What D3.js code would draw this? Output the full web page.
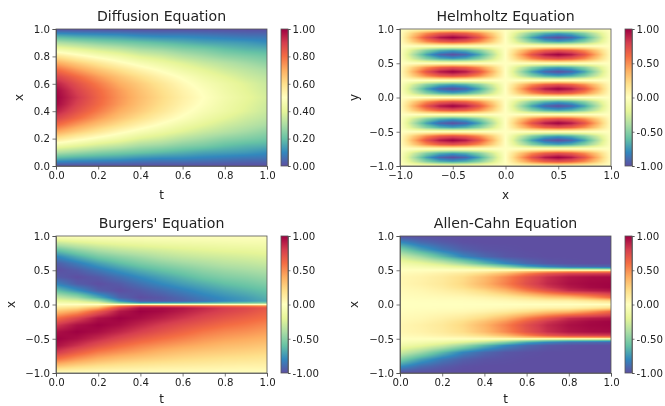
<!DOCTYPE html>
<html>
<head>
<meta charset="utf-8">
<script src="https://d3js.org/d3.v7.min.js"></script>
<style>
    html, body { margin: 0; padding: 0; background: #fff; }
    svg { display: block; font-family: "DejaVu Sans", sans-serif; fill: #222; filter: blur(0.3px); }
    .title { font-size: 14.1px; text-anchor: middle; }
    .label { font-size: 12px; text-anchor: middle; }
    .tick text { font-size: 10.2px; fill: #222; font-family: "DejaVu Sans", sans-serif; }
    .tick line, .domain { stroke: #444; stroke-width: 0.7px; }
    .frame { fill: none; stroke: #555; stroke-width: 0.8px; }
</style>
</head>
<body>
<svg id="chart" width="665" height="406"></svg>
<script>
// matplotlib Spectral_r anchors
var spectral = ["#5e4fa2", "#3288bd", "#66c2a5", "#abdda4", "#e6f598", "#ffffbf", "#fee08b", "#fdae61", "#f46d43", "#d53e4f", "#9e0142"];

var titles = ["Diffusion Equation", "Helmholtz Equation", "Burgers' Equation", "Allen-Cahn Equation"];
var xLabels = ["t", "x", "t", "t"];
var yLabels = ["x", "y", "x", "x"];
var unitTicks = [0, 0.2, 0.4, 0.6, 0.8, 1];
var halfTicks = [-1, -0.5, 0, 0.5, 1];
var cbarTicksUnit = ["0.00", "0.20", "0.40", "0.60", "0.80", "1.00"];
var cbarTicksSigned = ["-1.00", "-0.50", "0.00", "0.50", "1.00"];

// time columns shared by the three t-x panels
var tCols = [0, 0.1, 0.2, 0.3, 0.4, 0.5, 0.6, 0.7, 0.8, 0.9, 1];

// ---- Diffusion: rows run from x=1 down to x=0
var diffRows = [1, 0.95, 0.9, 0.85, 0.8, 0.75, 0.7, 0.65, 0.6, 0.55, 0.5, 0.45, 0.4, 0.35, 0.3, 0.25, 0.2, 0.15, 0.1, 0.05, 0];
var diffValues = [
    [0,0,0,0,0,0,0,0,0,0,0],
    [.16,.14,.13,.12,.10,.09,.09,.08,.07,.06,.06],
    [.31,.28,.25,.23,.21,.19,.17,.15,.14,.13,.11],
    [.45,.41,.37,.34,.30,.28,.25,.23,.20,.18,.17],
    [.59,.53,.48,.44,.39,.36,.32,.29,.26,.24,.22],
    [.71,.64,.58,.52,.47,.43,.39,.35,.32,.29,.26],
    [.81,.73,.66,.60,.54,.49,.44,.40,.36,.33,.30],
    [.89,.81,.73,.66,.60,.54,.49,.44,.40,.36,.33],
    [.95,.86,.78,.70,.64,.58,.52,.47,.43,.39,.35],
    [.99,.89,.81,.73,.66,.60,.54,.49,.44,.40,.36],
    [1,.91,.82,.74,.67,.61,.55,.50,.45,.41,.37],
    [.99,.89,.81,.73,.66,.60,.54,.49,.44,.40,.36],
    [.95,.86,.78,.70,.64,.58,.52,.47,.43,.39,.35],
    [.89,.81,.73,.66,.60,.54,.49,.44,.40,.36,.33],
    [.81,.73,.66,.60,.54,.49,.44,.40,.36,.33,.30],
    [.71,.64,.58,.52,.47,.43,.39,.35,.32,.29,.26],
    [.59,.53,.48,.44,.39,.36,.32,.29,.26,.24,.22],
    [.45,.41,.37,.34,.30,.28,.25,.23,.20,.18,.17],
    [.31,.28,.25,.23,.21,.19,.17,.15,.14,.13,.11],
    [.16,.14,.13,.12,.10,.09,.09,.08,.07,.06,.06],
    [0,0,0,0,0,0,0,0,0,0,0]
];

// ---- Helmholtz: columns are x, rows run from y=1 down to y=-1
var helmCols = [-1, -0.875, -0.75, -0.625, -0.5, -0.375, -0.25, -0.125, 0, 0.125, 0.25, 0.375, 0.5, 0.625, 0.75, 0.875, 1];
var helmRows = [1, .9375, .875, .8125, .75, .6875, .625, .5625, .5, .4375, .375, .3125, .25, .1875, .125, .0625, 0, -.0625, -.125, -.1875, -.25, -.3125, -.375, -.4375, -.5, -.5625, -.625, -.6875, -.75, -.8125, -.875, -.9375, -1];
var helmValues = [
    [0,0,0,0,0,0,0,0,0,0,0,0,0,0,0,0,0],
    [0,.27,.5,.65,.71,.65,.5,.27,0,-.27,-.5,-.65,-.71,-.65,-.5,-.27,0],
    [0,.38,.71,.92,1,.92,.71,.38,0,-.38,-.71,-.92,-1,-.92,-.71,-.38,0],
    [0,.27,.5,.65,.71,.65,.5,.27,0,-.27,-.5,-.65,-.71,-.65,-.5,-.27,0],
    [0,0,0,0,0,0,0,0,0,0,0,0,0,0,0,0,0],
    [0,-.27,-.5,-.65,-.71,-.65,-.5,-.27,0,.27,.5,.65,.71,.65,.5,.27,0],
    [0,-.38,-.71,-.92,-1,-.92,-.71,-.38,0,.38,.71,.92,1,.92,.71,.38,0],
    [0,-.27,-.5,-.65,-.71,-.65,-.5,-.27,0,.27,.5,.65,.71,.65,.5,.27,0],
    [0,0,0,0,0,0,0,0,0,0,0,0,0,0,0,0,0],
    [0,.27,.5,.65,.71,.65,.5,.27,0,-.27,-.5,-.65,-.71,-.65,-.5,-.27,0],
    [0,.38,.71,.92,1,.92,.71,.38,0,-.38,-.71,-.92,-1,-.92,-.71,-.38,0],
    [0,.27,.5,.65,.71,.65,.5,.27,0,-.27,-.5,-.65,-.71,-.65,-.5,-.27,0],
    [0,0,0,0,0,0,0,0,0,0,0,0,0,0,0,0,0],
    [0,-.27,-.5,-.65,-.71,-.65,-.5,-.27,0,.27,.5,.65,.71,.65,.5,.27,0],
    [0,-.38,-.71,-.92,-1,-.92,-.71,-.38,0,.38,.71,.92,1,.92,.71,.38,0],
    [0,-.27,-.5,-.65,-.71,-.65,-.5,-.27,0,.27,.5,.65,.71,.65,.5,.27,0],
    [0,0,0,0,0,0,0,0,0,0,0,0,0,0,0,0,0],
    [0,.27,.5,.65,.71,.65,.5,.27,0,-.27,-.5,-.65,-.71,-.65,-.5,-.27,0],
    [0,.38,.71,.92,1,.92,.71,.38,0,-.38,-.71,-.92,-1,-.92,-.71,-.38,0],
    [0,.27,.5,.65,.71,.65,.5,.27,0,-.27,-.5,-.65,-.71,-.65,-.5,-.27,0],
    [0,0,0,0,0,0,0,0,0,0,0,0,0,0,0,0,0],
    [0,-.27,-.5,-.65,-.71,-.65,-.5,-.27,0,.27,.5,.65,.71,.65,.5,.27,0],
    [0,-.38,-.71,-.92,-1,-.92,-.71,-.38,0,.38,.71,.92,1,.92,.71,.38,0],
    [0,-.27,-.5,-.65,-.71,-.65,-.5,-.27,0,.27,.5,.65,.71,.65,.5,.27,0],
    [0,0,0,0,0,0,0,0,0,0,0,0,0,0,0,0,0],
    [0,.27,.5,.65,.71,.65,.5,.27,0,-.27,-.5,-.65,-.71,-.65,-.5,-.27,0],
    [0,.38,.71,.92,1,.92,.71,.38,0,-.38,-.71,-.92,-1,-.92,-.71,-.38,0],
    [0,.27,.5,.65,.71,.65,.5,.27,0,-.27,-.5,-.65,-.71,-.65,-.5,-.27,0],
    [0,0,0,0,0,0,0,0,0,0,0,0,0,0,0,0,0],
    [0,-.27,-.5,-.65,-.71,-.65,-.5,-.27,0,.27,.5,.65,.71,.65,.5,.27,0],
    [0,-.38,-.71,-.92,-1,-.92,-.71,-.38,0,.38,.71,.92,1,.92,.71,.38,0],
    [0,-.27,-.5,-.65,-.71,-.65,-.5,-.27,0,.27,.5,.65,.71,.65,.5,.27,0],
    [0,0,0,0,0,0,0,0,0,0,0,0,0,0,0,0,0]
];

// ---- Burgers: rows packed around the shock at x=0
var burgRows = [1, .9, .8, .7, .6, .5, .4, .3, .2, .1, .05, .02, .005, 0, -.005, -.02, -.05, -.1, -.2, -.3, -.4, -.5, -.6, -.7, -.8, -.9, -1];
var burgValues = [
    [0,0,0,0,0,0,0,0,0,0,0],
    [-.31,-.24,-.19,-.16,-.14,-.12,-.11,-.10,-.09,-.08,-.08],
    [-.59,-.47,-.38,-.32,-.28,-.25,-.22,-.20,-.18,-.17,-.15],
    [-.81,-.67,-.55,-.48,-.42,-.36,-.32,-.29,-.27,-.25,-.23],
    [-.95,-.84,-.72,-.62,-.54,-.48,-.43,-.39,-.35,-.33,-.30],
    [-1,-.95,-.86,-.76,-.67,-.60,-.54,-.48,-.44,-.41,-.38],
    [-.95,-1,-.96,-.88,-.79,-.71,-.64,-.57,-.52,-.49,-.45],
    [-.81,-.95,-1,-.96,-.88,-.80,-.73,-.67,-.61,-.57,-.52],
    [-.59,-.76,-.94,-1,-.96,-.90,-.83,-.76,-.70,-.65,-.60],
    [-.31,-.43,-.67,-.92,-1,-.97,-.91,-.84,-.78,-.73,-.66],
    [-.16,-.22,-.39,-.77,-.95,-.96,-.93,-.87,-.80,-.75,-.69],
    [-.06,-.09,-.17,-.50,-.70,-.68,-.66,-.62,-.58,-.55,-.50],
    [-.02,-.02,-.04,-.18,-.25,-.20,-.20,-.20,-.18,-.18,-.16],
    [0,0,0,0,0,0,0,0,0,0,0],
    [.02,.02,.04,.18,.25,.20,.20,.20,.18,.18,.16],
    [.06,.09,.17,.50,.70,.68,.66,.62,.58,.55,.50],
    [.16,.22,.39,.77,.95,.96,.93,.87,.80,.75,.69],
    [.31,.43,.67,.92,1,.97,.91,.84,.78,.73,.66],
    [.59,.76,.94,1,.96,.90,.83,.76,.70,.65,.60],
    [.81,.95,1,.96,.88,.80,.73,.67,.61,.57,.52],
    [.95,1,.96,.88,.79,.71,.64,.57,.52,.49,.45],
    [1,.95,.86,.76,.67,.60,.54,.48,.44,.41,.38],
    [.95,.84,.72,.62,.54,.48,.43,.39,.35,.33,.30],
    [.81,.67,.55,.48,.42,.36,.32,.29,.27,.25,.23],
    [.59,.47,.38,.32,.28,.25,.22,.20,.18,.17,.15],
    [.31,.24,.19,.16,.14,.12,.11,.10,.09,.08,.08],
    [0,0,0,0,0,0,0,0,0,0,0]
];

// ---- Allen-Cahn: rows packed around the interfaces at x=+-0.5
var allenRows = [1, .95, .9, .8, .7, .6, .55, .52, .51, .5, .49, .48, .45, .4, .3, .25, .2, .1, .05, 0, -.05, -.1, -.2, -.25, -.3, -.4, -.45, -.48, -.49, -.5, -.51, -.52, -.55, -.6, -.7, -.8, -.9, -.95, -1];
var allenValues = [
    [-1,-1,-1,-1,-1,-1,-1,-1,-1,-1,-1],
    [-.89,-.95,-.98,-1,-1,-1,-1,-1,-1,-1,-1],
    [-.77,-.89,-.95,-.99,-1,-1,-1,-1,-1,-1,-1],
    [-.52,-.71,-.85,-.94,-.98,-.99,-1,-1,-1,-1,-1],
    [-.29,-.44,-.63,-.81,-.91,-.97,-.99,-1,-1,-1,-1],
    [-.11,-.18,-.29,-.45,-.64,-.80,-.91,-.97,-.99,-1,-1],
    [-.05,-.08,-.13,-.21,-.33,-.50,-.69,-.80,-.88,-.90,-.92],
    [-.02,-.03,-.05,-.08,-.13,-.22,-.34,-.45,-.50,-.52,-.55],
    [-.01,-.01,-.02,-.04,-.06,-.10,-.16,-.22,-.26,-.28,-.30],
    [0,0,0,0,0,0,0,0,0,0,0],
    [.01,.02,.03,.05,.09,.14,.20,.24,.26,.27,.28],
    [.015,.02,.04,.06,.11,.20,.33,.42,.48,.50,.52],
    [.03,.05,.09,.14,.23,.36,.54,.70,.78,.80,.82],
    [.05,.08,.13,.21,.34,.51,.70,.85,.93,.96,.97],
    [.05,.09,.14,.23,.37,.54,.73,.87,.95,.98,.99],
    [.04,.07,.12,.20,.32,.47,.66,.82,.92,.97,.99],
    [.03,.05,.09,.14,.23,.36,.54,.70,.85,.90,.93],
    [.01,.02,.03,.04,.07,.12,.19,.28,.33,.45,.60],
    [.002,.004,.007,.011,.02,.035,.06,.08,.09,.14,.20],
    [0,0,0,0,0,0,0,0,0,0,0],
    [.002,.004,.007,.011,.02,.035,.06,.08,.09,.14,.20],
    [.01,.02,.03,.04,.07,.12,.19,.28,.33,.45,.60],
    [.03,.05,.09,.14,.23,.36,.54,.70,.85,.90,.93],
    [.04,.07,.12,.20,.32,.47,.66,.82,.92,.97,.99],
    [.05,.09,.14,.23,.37,.54,.73,.87,.95,.98,.99],
    [.05,.08,.13,.21,.34,.51,.70,.85,.93,.96,.97],
    [.03,.05,.09,.14,.23,.36,.54,.70,.78,.80,.82],
    [.015,.02,.04,.06,.11,.20,.33,.42,.48,.50,.52],
    [.01,.02,.03,.05,.09,.14,.20,.24,.26,.27,.28],
    [0,0,0,0,0,0,0,0,0,0,0],
    [-.01,-.01,-.02,-.04,-.06,-.10,-.16,-.22,-.26,-.28,-.30],
    [-.02,-.03,-.05,-.08,-.13,-.22,-.34,-.45,-.50,-.52,-.55],
    [-.05,-.08,-.13,-.21,-.33,-.50,-.69,-.80,-.88,-.90,-.92],
    [-.11,-.18,-.29,-.45,-.64,-.80,-.91,-.97,-.99,-1,-1],
    [-.29,-.44,-.63,-.81,-.91,-.97,-.99,-1,-1,-1,-1],
    [-.52,-.71,-.85,-.94,-.98,-.99,-1,-1,-1,-1,-1],
    [-.77,-.89,-.95,-.99,-1,-1,-1,-1,-1,-1,-1],
    [-.89,-.95,-.98,-1,-1,-1,-1,-1,-1,-1,-1],
    [-1,-1,-1,-1,-1,-1,-1,-1,-1,-1,-1]
];

// panel frames, left to right, top to bottom
var plotW = 211, plotH = 137;
var panels = [
    { i: 0, left: 56,  top: 29,  cols: tCols,    rows: diffRows,  values: diffValues,  xDom: [0, 1],  yDom: [0, 1],  xTicks: unitTicks, yTicks: unitTicks, cDom: [0, 1],  cbar: cbarTicksUnit,   ylx: 19,  xly: 33 },
    { i: 1, left: 400, top: 29,  cols: helmCols, rows: helmRows,  values: helmValues,  xDom: [-1, 1], yDom: [-1, 1], xTicks: halfTicks, yTicks: halfTicks, cDom: [-1, 1], cbar: cbarTicksSigned, ylx: 354, xly: 33 },
    { i: 2, left: 56,  top: 236, cols: tCols,    rows: burgRows,  values: burgValues,  xDom: [0, 1],  yDom: [-1, 1], xTicks: unitTicks, yTicks: halfTicks, cDom: [-1, 1], cbar: cbarTicksSigned, ylx: 11,  xly: 30 },
    { i: 3, left: 400, top: 236, cols: tCols,    rows: allenRows, values: allenValues, xDom: [0, 1],  yDom: [-1, 1], xTicks: unitTicks, yTicks: halfTicks, cDom: [-1, 1], cbar: cbarTicksSigned, ylx: 354, xly: 30 }
];

var svg = d3.select("#chart");
var defs = svg.append("defs");

panels.forEach(function (p) {
    var g = svg.append("g").attr("transform", "translate(" + p.left + "," + p.top + ")");
    var x = d3.scaleLinear().domain(p.xDom).range([0, plotW]);
    var y = d3.scaleLinear().domain(p.yDom).range([plotH, 0]);

    var color = d3.scaleLinear()
        .domain(d3.range(11).map(function (k) { return p.cDom[0] + (p.cDom[1] - p.cDom[0]) * k / 10; }))
        .range(spectral)
        .clamp(true);

    // fractional index into the value table for a data position
    var colIdx = d3.scaleLinear().domain(p.cols).range(d3.range(p.cols.length)).clamp(true);
    var rowIdx = d3.scaleLinear().domain(p.rows).range(d3.range(p.rows.length)).clamp(true);

    var canvas = document.createElement("canvas");
    canvas.width = plotW;
    canvas.height = plotH;
    var ctx = canvas.getContext("2d");
    var img = ctx.createImageData(plotW, plotH);
    for (var py = 0; py < plotH; py++) {
        var ry = rowIdx(y.invert(py + 0.5));
        var r0 = Math.min(Math.floor(ry), p.rows.length - 2), rf = ry - r0;
        for (var px = 0; px < plotW; px++) {
            var cx = colIdx(x.invert(px + 0.5));
            var c0 = Math.min(Math.floor(cx), p.cols.length - 2), cf = cx - c0;
            var v = (p.values[r0][c0] * (1 - cf) + p.values[r0][c0 + 1] * cf) * (1 - rf)
                  + (p.values[r0 + 1][c0] * (1 - cf) + p.values[r0 + 1][c0 + 1] * cf) * rf;
            var rgb = d3.rgb(color(v));
            var o = (py * plotW + px) * 4;
            img.data[o] = rgb.r;
            img.data[o + 1] = rgb.g;
            img.data[o + 2] = rgb.b;
            img.data[o + 3] = 255;
        }
    }
    ctx.putImageData(img, 0, 0);
    g.append("image")
        .attr("width", plotW).attr("height", plotH)
        .attr("href", canvas.toDataURL());

    g.append("g").attr("transform", "translate(0," + plotH + ")")
        .call(d3.axisBottom(x).tickValues(p.xTicks).tickSize(3.5).tickPadding(2.5).tickFormat(d3.format(".1f")));
    g.append("g")
        .call(d3.axisLeft(y).tickValues(p.yTicks).tickSize(3.5).tickPadding(2.5).tickFormat(d3.format(".1f")));
    g.append("rect").attr("class", "frame").attr("width", plotW).attr("height", plotH);

    g.append("text").attr("class", "title")
        .attr("x", plotW / 2).attr("y", -8)
        .text(titles[p.i]);
    g.append("text").attr("class", "label")
        .attr("x", plotW / 2).attr("y", plotH + p.xly)
        .text(xLabels[p.i]);
    g.append("text").attr("class", "label")
        .attr("transform", "translate(" + (p.ylx - p.left + 4) + "," + plotH / 2 + ") rotate(-90)")
        .text(yLabels[p.i]);

    // colorbar
    var gradId = "cbar" + p.i;
    var grad = defs.append("linearGradient").attr("id", gradId)
        .attr("x1", 0).attr("y1", 1).attr("x2", 0).attr("y2", 0);
    spectral.forEach(function (col, k) {
        grad.append("stop").attr("offset", k / 10).attr("stop-color", col);
    });
    var cb = g.append("g").attr("transform", "translate(" + (plotW + 14) + ",0)");
    var cy = d3.scaleLinear().domain(p.cDom).range([plotH, 0]);
    cb.append("rect").attr("width", 7).attr("height", plotH).attr("fill", "url(#" + gradId + ")");
    cb.append("g").attr("transform", "translate(7,0)")
        .call(d3.axisRight(cy).tickValues(p.cbar.map(Number)).tickSize(2.5).tickPadding(2)
            .tickFormat(function (d, k) { return p.cbar[k]; }));
    cb.append("rect").attr("class", "frame").attr("width", 7).attr("height", plotH);
});
</script>
</body>
</html>
